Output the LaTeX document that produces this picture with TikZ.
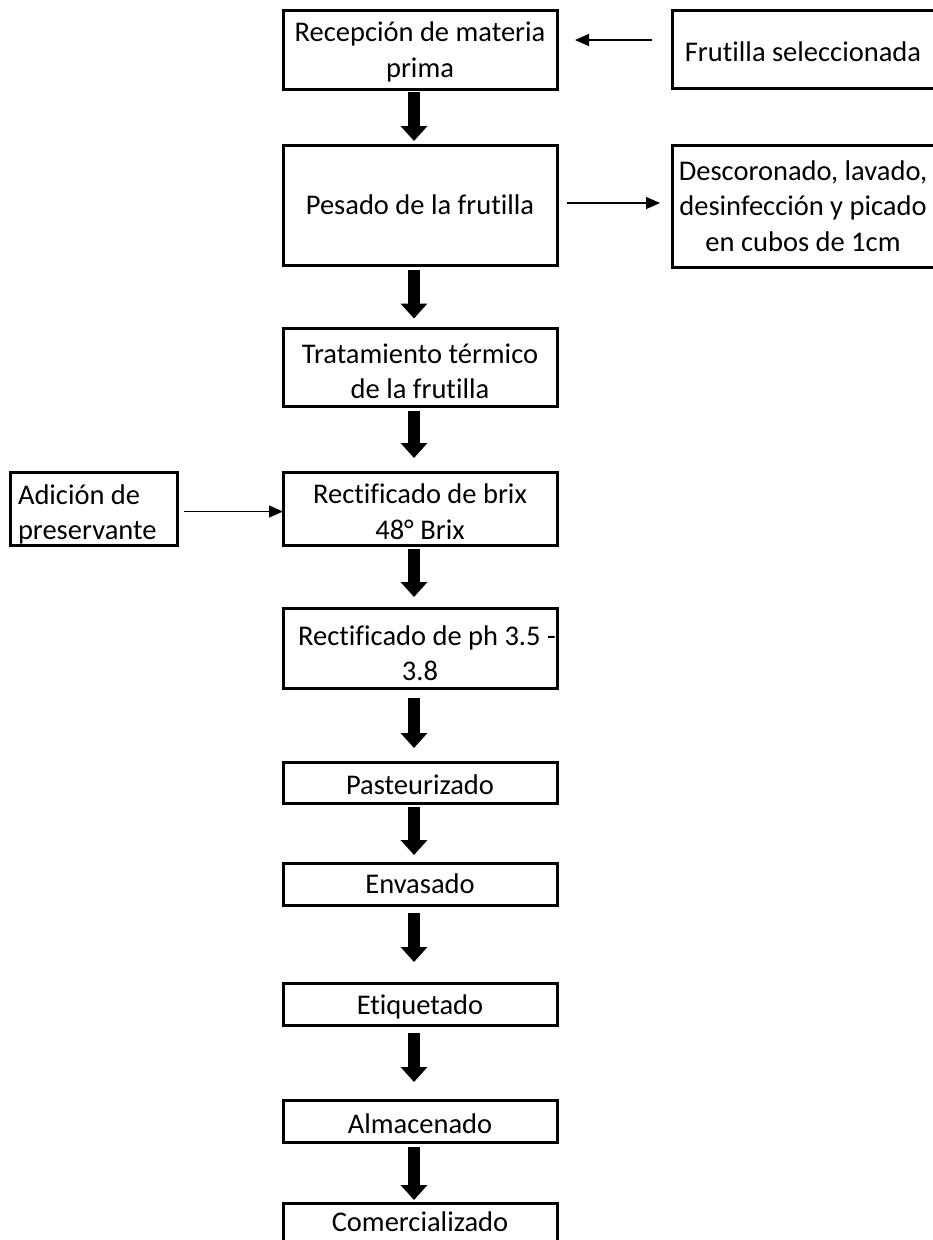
\documentclass[tikz,border=0pt]{standalone}
\usepackage{fontspec}
\setmainfont{Carlito}[Ligatures={NoCommon}]
\usetikzlibrary{arrows.meta}
\tikzset{
  box/.style={draw, line width=3pt, inner sep=0pt, outer sep=0pt, minimum width=274pt},
  sidebox/.style={draw, line width=3pt, inner sep=0pt, outer sep=0pt, minimum width=264pt},
  txt/.style={inner sep=0pt, outer sep=0pt, anchor=north, align=center,
    font=\fontsize{28.5}{35.5}\selectfont},
  bigarr/.style={line width=12pt, -{Triangle[length=15pt,width=26pt]}},
  thinarr/.style={line width=1.3pt, -{Triangle[length=14pt,width=12pt]}}
}
\begin{document}
\begin{tikzpicture}[x=1pt,y=-1pt]
\useasboundingbox (0,0) rectangle (933,1240);
\clip (0,0) rectangle (933,1240);
% main column boxes
\node[box, minimum height=79pt] (b1) at (420,49.5) {};
\node[box, minimum height=120pt] (b2) at (420,205) {};
\node[box, minimum height=78pt] (b3) at (420,367.5) {};
\node[box, minimum height=73pt] (b4) at (420,508.5) {};
\node[box, minimum height=80pt] (b5) at (420,648) {};
\node[box, minimum height=41pt] (b6) at (420,782.5) {};
\node[box, minimum height=42pt] (b7) at (420,884) {};
\node[box, minimum height=42pt] (b8) at (420,1004) {};
\node[box, minimum height=42pt] (b9) at (420,1121) {};
\node[box, minimum height=42pt] (b10) at (420,1224) {};
% side boxes
\node[sidebox, minimum height=78pt] (fs) at (804,49) {};
\node[sidebox, minimum height=122pt] (ds) at (804,206) {};
\node[box, minimum width=167pt, minimum height=73pt] (ad) at (93.5,508.5) {};
% texts
\node[txt] (t1) at ([yshift=-7pt]b1.north) {\strut Recepción de materia\\prima};
\node[txt] (t2) at ([yshift=-45pt]b2.north) {\strut Pesado de la frutilla};
\node[txt] (t3) at ([yshift=-10pt]b3.north) {\strut Tratamiento térmico\\de la frutilla};
\node[txt] (t4) at ([yshift=-7pt]b4.north) {\strut Rectificado de brix\\48° Brix};
\node[txt] (t5) at ([yshift=-12.5pt,xshift=7pt]b5.north) {\strut Rectificado de ph 3.5 -\\\hspace*{-14pt}3.8};
\node[txt] (t6) at ([yshift=-7.5pt]b6.north) {\strut Pasteurizado};
\node[txt] (t7) at ([yshift=-6pt]b7.north) {\strut Envasado};
\node[txt] (t8) at ([yshift=-6.5pt]b8.north) {\strut Etiquetado};
\node[txt] (t9) at ([yshift=-8.5pt]b9.north) {\strut Almacenado};
\node[txt] (t10) at ([yshift=-4pt]b10.north) {\strut Comercializado};
\node[txt] (tfs) at ([yshift=-27pt,xshift=-1pt]fs.north) {\strut Frutilla seleccionada};
\node[txt] (tds) at ([yshift=-10.5pt,xshift=-1pt]ds.north) {\strut Descoronado, lavado,\\desinfección y picado\\en cubos de 1cm};
\node[txt, anchor=north west, align=left] (tad) at ([xshift=8pt,yshift=-7.5pt]ad.north west) {\strut Adición de\\preservante};
% thick arrows
\draw[bigarr] ([xshift=-6pt,yshift=-3pt]b1.south) -- ([xshift=-6pt,yshift=4pt]b2.north);
\draw[bigarr] ([xshift=-6pt,yshift=-5pt]b2.south) -- ([xshift=-6pt,yshift=10pt]b3.north);
\draw[bigarr] ([xshift=-6pt,yshift=-4pt]b3.south) -- ([xshift=-6pt,yshift=14pt]b4.north);
\draw[bigarr] ([xshift=-6pt,yshift=-4pt]b4.south) -- ([xshift=-6pt,yshift=11pt]b5.north);
\draw[bigarr] ([xshift=-6pt,yshift=-10pt]b5.south) -- ([xshift=-6pt,yshift=14pt]b6.north);
\draw[bigarr] ([xshift=-6pt,yshift=-4pt]b6.south) -- ([xshift=-6pt,yshift=8pt]b7.north);
\draw[bigarr] ([xshift=-6pt,yshift=-8pt]b7.south) -- ([xshift=-6pt,yshift=21pt]b8.north);
\draw[bigarr] ([xshift=-6pt,yshift=-8pt]b8.south) -- ([xshift=-6pt,yshift=18pt]b9.north);
\draw[bigarr] ([xshift=-6pt,yshift=-5pt]b9.south) -- ([xshift=-6pt,yshift=3pt]b10.north);
% thin arrows
\draw[thinarr] ([xshift=-20pt,yshift=9pt]fs.west) -- ([xshift=18pt,yshift=9.5pt]b1.east);
\draw[thinarr] ([xshift=10pt,yshift=2pt]b2.east) -- ([xshift=-12pt,yshift=3pt]ds.west);
\draw[thinarr] ([xshift=7pt,yshift=-3pt]ad.east) -- ([yshift=-3pt]b4.west);
\end{tikzpicture}
\end{document}
